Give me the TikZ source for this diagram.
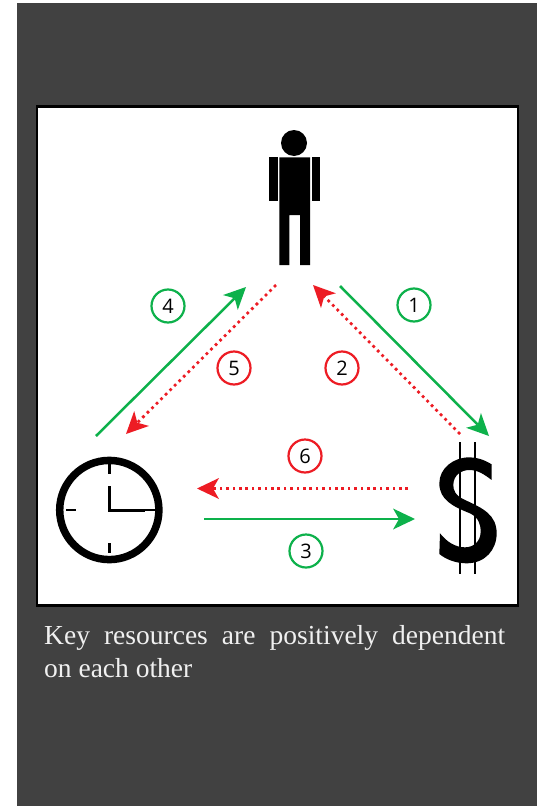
\documentclass[tikz,border=0pt]{standalone}
\usepackage{fontspec}
\setmainfont{Liberation Serif}
\newfontfamily\numfont{Open Sans}
\usetikzlibrary{arrows.meta}
\definecolor{bgdark}{HTML}{414141}
\definecolor{kgreen}{HTML}{0DB14B}
\definecolor{kred}{HTML}{ED1C24}
\tikzset{
  tipstyle/.style={-{Stealth[length=22pt,width=21pt,inset=6pt,line width=0pt]}},
  greenarrow/.style={tipstyle,draw=kgreen,line width=2.5pt},
  redarrow/.style={tipstyle,draw=kred,line width=2.7pt,dash pattern=on 2.7pt off 3.7pt},
  numcircle/.style={circle,draw=#1,line width=2.2pt,fill=white,minimum size=33pt,inner sep=0pt,font=\numfont\fontsize{20}{20}\selectfont,text=black},
  tick/.style={line width=2.5pt,draw=black},
  hand/.style={line width=3pt,draw=black},
}
\begin{document}
\begin{tikzpicture}[x=1pt,y=-1pt]
\useasboundingbox (0,0) rectangle (544,806);
\fill[white] (0,0) rectangle (544,806);
\fill[bgdark] (17,3) rectangle (537,806);
\draw[black,fill=white,line width=2.5pt] (37,106.5) rectangle (518,605.5);
% person
\fill[black] (294,143) circle (13);
\fill[black] (279.3,157.3) -- (310,157.3) -- (310,265) -- (300,265) -- (300,215) -- (289.3,215) -- (289.3,265) -- (279.3,265) -- cycle;
\fill[black] (269.3,157.3) rectangle (277.5,200.5);
\fill[black] (311.5,157.3) rectangle (320,200.5);
% clock
\draw[black,line width=7.5pt] (109.3,510) circle (49.6);
\draw[tick] (109.3,464) -- (109.3,474);
\draw[tick] (109.3,543) -- (109.3,553);
\draw[tick] (66,510) -- (76,510);
\draw[tick] (145,510) -- (155,510);
\draw[hand,line cap=rect] (109.3,487) -- (109.3,510) -- (143,510);
% dollar
\begin{scope}[shift={(390,400)},x=0.3333pt,y=-0.3333pt]
\fill[black] (305,193) .. controls (280,178) and (260,172) .. (238,172)
  .. controls (190,172) and (148,205) .. (148,250)
  .. controls (148,300) and (190,320) .. (240,340)
  .. controls (265,352) and (272,372) .. (272,395)
  .. controls (272,425) and (250,442) .. (225,442)
  .. controls (195,442) and (170,425) .. (150,400)
  -- (148,462)
  .. controls (170,480) and (200,490) .. (230,490)
  .. controls (285,490) and (320,450) .. (320,400)
  .. controls (320,345) and (280,325) .. (225,300)
  .. controls (195,287) and (190,270) .. (190,255)
  .. controls (190,225) and (215,210) .. (238,210)
  .. controls (265,210) and (285,225) .. (305,240)
  -- cycle;
\end{scope}
\draw[line width=2.3pt,black] (460.3,442) -- (460.3,574);
\draw[line width=2.3pt,black] (475,442) -- (475,574);
% connector ends
\coordinate (a1) at (340,286); \coordinate (b1) at (489,436);
\coordinate (a2) at (460,434); \coordinate (b2) at (313,285);
\coordinate (a3) at (204,519); \coordinate (b3) at (415,519);
\coordinate (a4) at (96,436);  \coordinate (b4) at (246,287);
\coordinate (a5) at (276,285); \coordinate (b5) at (126,434);
\coordinate (a6) at (408,488.5); \coordinate (b6) at (197,488.5);
\draw[greenarrow] (a1) -- (b1);
\draw[redarrow] (a2) -- (b2);
\draw[greenarrow] (a3) -- (b3);
\draw[greenarrow] (a4) -- (b4);
\draw[redarrow] (a5) -- (b5);
\draw[redarrow] (a6) -- (b6);
% numbers
\node[numcircle=kgreen] (n1) at (414,305) {1};
\node[numcircle=kred] (n2) at (342,368) {2};
\node[numcircle=kgreen] (n3) at (306,551) {3};
\node[numcircle=kgreen] (n4) at (168,306) {4};
\node[numcircle=kred] (n5) at (234,368) {5};
\node[numcircle=kred] (n6) at (305,456) {6};
% caption
\node[anchor=north west,inner sep=0pt,text=white!94!black,text width=461pt,align=justify,font=\fontsize{27.5}{33}\selectfont] (cap) at (44,625) {Key resources are positively dependent\linebreak on each other};
\end{tikzpicture}
\end{document}
